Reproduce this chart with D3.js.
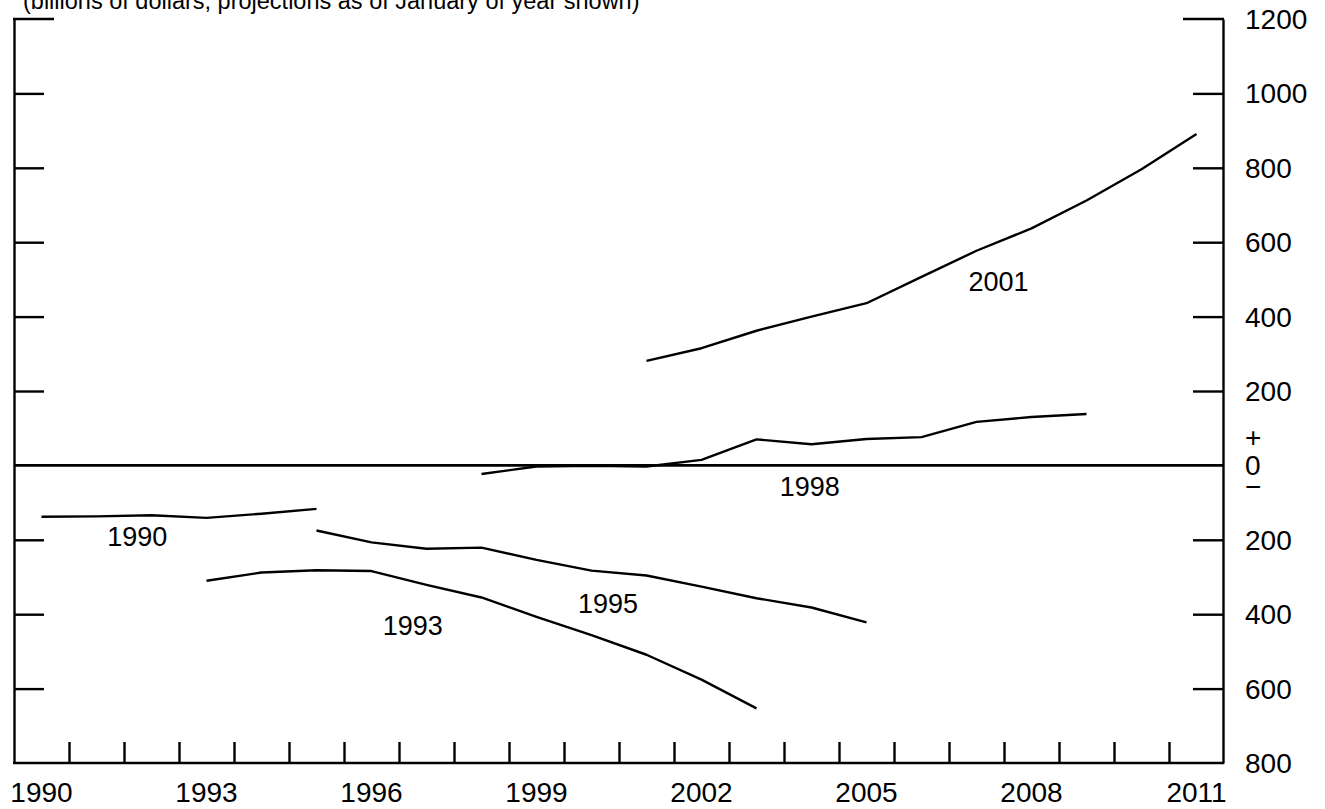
<!DOCTYPE html>
<html>
<head>
<meta charset="utf-8">
<script src="https://cdn.jsdelivr.net/npm/d3@7"></script>
<style>
  html, body { margin: 0; padding: 0; background: #fff; }
  svg { display: block; }
  text { font-family: "Liberation Sans", Arial, sans-serif; fill: #000; }
</style>
</head>
<body>
<svg id="chart" width="1325" height="809"></svg>
<script>
// ---- Data ----
const titleText = "(billions of dollars, projections as of January of year shown)";
const yearLabels = [1990, 1993, 1996, 1999, 2002, 2005, 2008, 2011];
const yTickValues = [-800, -600, -400, -200, 200, 400, 600, 800, 1000, 1200];

const vintages = ["1990", "1993", "1995", "1998", "2001"];
const startYears = [1990, 1993, 1995, 1998, 2001];
const proj1990 = [-138, -137, -134, -141, -130, -117];
const proj1993 = [-310, -288, -282, -284, -321, -355, -407, -456, -509, -576, -653];
const proj1995 = [-175, -207, -224, -221, -254, -283, -296, -326, -357, -382, -422];
const proj1998 = [-23, -3, -1, -3, 15, 70, 57, 71, 76, 117, 130, 138];
const proj2001 = [281, 315, 362, 400, 436, 507, 577, 637, 712, 796, 891];
const seriesValues = [proj1990, proj1993, proj1995, proj1998, proj2001];
// label anchor in data units (year, value)
const labelYears = [1992.24, 1997.25, 2000.8, 2004.47, 2007.9];
const labelValues = [-217, -456, -397, -82, 468];

// ---- Layout ----
const svg = d3.select("#chart");
const mLeft = 14, mRight = 1223, mTop = 19, mBottom = 763;
const x = d3.scaleLinear().domain([1990, 2012]).range([mLeft, mLeft + 1210]);
const y = d3.scaleLinear().domain([-800, 1200]).range([mBottom, mTop]);
const FS = 28;

// title
svg.append("text").attr("x", 23).attr("y", 9).attr("font-size", 23.5).text(titleText);

const strokeW = 2.4;

// left axis
const leftAxis = d3.axisLeft(y).tickValues(yTickValues.filter(v => v > -800 && v < 1200))
  .tickSize(-30).tickSizeOuter(0).tickFormat("");
const gl = svg.append("g").attr("transform", `translate(${mLeft},0)`).call(leftAxis);
gl.selectAll("path.domain").attr("stroke", "#000").attr("stroke-width", strokeW);
gl.selectAll(".tick line").attr("stroke", "#000").attr("stroke-width", strokeW);

// right axis
const rightAxis = d3.axisRight(y).tickValues(yTickValues.filter(v => v > -800 && v < 1200))
  .tickSize(-30).tickSizeOuter(0).tickFormat("");
const gr = svg.append("g").attr("transform", `translate(${mRight},0)`).call(rightAxis);
gr.selectAll("path.domain").attr("stroke", "#000").attr("stroke-width", strokeW);
gr.selectAll(".tick line").attr("stroke", "#000").attr("stroke-width", strokeW);

// top ticks (1200)
svg.append("line").attr("x1", mLeft - 1).attr("x2", mLeft + 40).attr("y1", y(1200)).attr("y2", y(1200))
  .attr("stroke", "#000").attr("stroke-width", strokeW);
svg.append("line").attr("x1", mRight - 40).attr("x2", mRight + 1).attr("y1", y(1200)).attr("y2", y(1200))
  .attr("stroke", "#000").attr("stroke-width", strokeW);

// right labels
svg.append("g").selectAll("text").data(yTickValues).join("text")
  .attr("x", 1245).attr("y", d => y(d)).attr("dy", "0.36em")
  .attr("font-size", FS).text(d => Math.abs(d));
svg.append("text").attr("x", 1245).attr("y", y(0) - 28).attr("dy", "0.36em").attr("font-size", FS).text("+");
svg.append("text").attr("x", 1245).attr("y", y(0)).attr("dy", "0.36em").attr("font-size", FS).text("0");
svg.append("text").attr("x", 1245).attr("y", y(0) + 21).attr("dy", "0.36em").attr("font-size", FS).text("\u2212");

// bottom axis
const boundaries = d3.range(1991, 2012);
const bottomAxis = d3.axisBottom(x).tickValues(boundaries).tickSize(-21).tickSizeOuter(0).tickFormat("");
const gb = svg.append("g").attr("transform", `translate(0,${mBottom})`).call(bottomAxis);
gb.selectAll("path.domain").attr("stroke", "#000").attr("stroke-width", strokeW)
  .attr("d", `M${mLeft - 1},0H${mRight + 1}`);
gb.selectAll(".tick line").attr("stroke", "#000").attr("stroke-width", strokeW);

// year labels
svg.append("g").selectAll("text").data(yearLabels).join("text")
  .attr("x", d => x(d + 0.5)).attr("y", 802).attr("text-anchor", "middle")
  .attr("font-size", FS).text(d => d);

// zero line
svg.append("line").attr("x1", mLeft).attr("x2", mRight).attr("y1", y(0)).attr("y2", y(0))
  .attr("stroke", "#000").attr("stroke-width", 2.6);

// series
const line = d3.line().x(d => x(d[0] + 0.5)).y(d => y(d[1]));
seriesValues.forEach((vals, i) => {
  const pts = vals.map((v, j) => [startYears[i] + j, v]);
  svg.append("path").datum(pts).attr("d", line)
    .attr("fill", "none").attr("stroke", "#000").attr("stroke-width", strokeW)
    .attr("stroke-linejoin", "round");
  svg.append("text").attr("x", x(labelYears[i])).attr("y", y(labelValues[i]))
    .attr("text-anchor", "middle").attr("font-size", 27).text(vintages[i]);
});
</script>
</body>
</html>
